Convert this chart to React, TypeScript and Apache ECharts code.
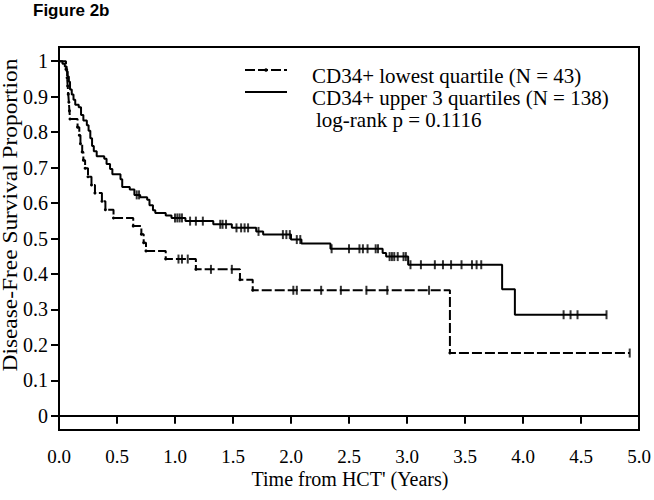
import React, { useEffect, useRef } from "react";
import * as echarts from "echarts";

// Upper 3 quartiles (N = 138): event times and survival after each step
const upperTimes = [0, 0.03, 0.05, 0.066, 0.075, 0.085, 0.095, 0.11, 0.125, 0.14, 0.17, 0.19, 0.21, 0.24, 0.255, 0.27, 0.285, 0.3, 0.325, 0.39, 0.41, 0.44, 0.46, 0.53, 0.545, 0.61, 0.65, 0.7, 0.76, 0.78, 0.81, 0.83, 0.92, 0.97, 1.09, 1.33, 1.49, 1.7, 1.76, 2.0, 2.09, 2.34, 2.79, 2.82, 3.01, 3.82, 3.93, 4.72];
const upperSurv = [1, 0.993, 0.985, 0.971, 0.957, 0.942, 0.92, 0.906, 0.891, 0.877, 0.87, 0.848, 0.833, 0.819, 0.804, 0.783, 0.761, 0.746, 0.732, 0.725, 0.71, 0.696, 0.681, 0.667, 0.645, 0.638, 0.623, 0.616, 0.609, 0.594, 0.58, 0.572, 0.565, 0.558, 0.549, 0.54, 0.53, 0.52, 0.511, 0.497, 0.486, 0.471, 0.459, 0.449, 0.426, 0.357, 0.285, 0.285];
const upperCensorTimes = [0.67, 0.69, 1.0, 1.02, 1.04, 1.06, 1.13, 1.18, 1.24, 1.39, 1.41, 1.44, 1.53, 1.57, 1.6, 1.63, 1.72, 1.93, 1.96, 1.99, 2.05, 2.08, 2.35, 2.5, 2.59, 2.62, 2.66, 2.73, 2.75, 2.85, 2.87, 2.89, 2.92, 2.97, 2.99, 3.03, 3.12, 3.24, 3.31, 3.38, 3.47, 3.56, 3.6, 3.64, 4.35, 4.41, 4.47, 4.72];
const upperCensorSurv = [0.623, 0.623, 0.558, 0.558, 0.558, 0.558, 0.549, 0.549, 0.549, 0.54, 0.54, 0.54, 0.53, 0.53, 0.53, 0.53, 0.52, 0.511, 0.511, 0.511, 0.497, 0.497, 0.471, 0.471, 0.471, 0.471, 0.471, 0.471, 0.471, 0.449, 0.449, 0.449, 0.449, 0.449, 0.449, 0.426, 0.426, 0.426, 0.426, 0.426, 0.426, 0.426, 0.426, 0.426, 0.285, 0.285, 0.285, 0.285];

// Lowest quartile (N = 43)
const lowerTimes = [0, 0.06, 0.07, 0.075, 0.08, 0.085, 0.09, 0.095, 0.16, 0.175, 0.185, 0.2, 0.21, 0.225, 0.25, 0.28, 0.31, 0.37, 0.4, 0.47, 0.64, 0.71, 0.73, 0.75, 0.92, 1.18, 1.56, 1.67, 3.37, 4.92];
const lowerSurv = [1, 0.977, 0.953, 0.93, 0.907, 0.884, 0.86, 0.837, 0.814, 0.791, 0.767, 0.744, 0.721, 0.698, 0.674, 0.651, 0.628, 0.605, 0.581, 0.558, 0.535, 0.512, 0.488, 0.465, 0.442, 0.413, 0.384, 0.354, 0.177, 0.177];
const lowerCensorTimes = [1.03, 1.06, 1.11, 1.31, 1.49, 2.02, 2.05, 2.26, 2.43, 2.65, 2.83, 3.19, 4.92];
const lowerCensorSurv = [0.442, 0.442, 0.442, 0.413, 0.413, 0.354, 0.354, 0.354, 0.354, 0.354, 0.354, 0.354, 0.177];

const yTickValues = [0, 0.1, 0.2, 0.3, 0.4, 0.5, 0.6, 0.7, 0.8, 0.9, 1];

const titleText = "Figure 2b";
const legendLabels = ["CD34+ lowest quartile (N = 43)", "CD34+ upper 3 quartiles (N = 138)"];
const pValueText = "log-rank p = 0.1116";
const xTitle = "Time from HCT' (Years)";
const yTitle = "Disease-Free Survival Proportion";

const SERIF = "'Liberation Serif', 'Times New Roman', serif";

export default function App() {
  const ref = useRef<HTMLDivElement>(null);

  useEffect(() => {
    if (!ref.current) return;
    const chart = echarts.init(ref.current, null, { renderer: "svg" });

    const upperData = upperTimes.map((t, i) => [t, upperSurv[i]]);
    const lowerData = lowerTimes.map((t, i) => {
      const last = i === 0 || i === lowerTimes.length - 1;
      return last ? { value: [t, lowerSurv[i]], symbol: "none" } : { value: [t, lowerSurv[i]] };
    });
    const upperCens = upperCensorTimes.map((t, i) => [t, upperCensorSurv[i]]);
    const lowerCens = lowerCensorTimes.map((t, i) => [t, lowerCensorSurv[i]]);

    chart.setOption({
      animation: false,
      backgroundColor: "#fff",
      grid: {
        left: 59,
        right: 15,
        top: 47,
        bottom: 70,
        show: true,
        borderColor: "#000",
        borderWidth: 2,
        backgroundColor: "transparent",
      },
      xAxis: {
        type: "value",
        min: 0,
        max: 5,
        interval: 0.5,
        axisLine: { show: true, lineStyle: { color: "#000", width: 2 } },
        axisTick: { show: true, inside: false, length: 8, lineStyle: { color: "#000", width: 2 } },
        axisLabel: {
          color: "#000",
          fontFamily: SERIF,
          fontSize: 19,
          margin: 17,
          formatter: (v: number) => v.toFixed(1),
        },
        splitLine: { show: false },
      },
      yAxis: {
        type: "value",
        min: -0.04,
        max: 1.04,
        axisLine: { show: true, lineStyle: { color: "#000", width: 2 } },
        axisTick: {
          show: true,
          inside: false,
          length: 8,
          customValues: yTickValues,
          lineStyle: { color: "#000", width: 2 },
        },
        axisLabel: {
          color: "#000",
          fontFamily: SERIF,
          fontSize: 20,
          margin: 11,
          customValues: yTickValues,
          formatter: (v: number) => (v === 0 ? "0" : v === 1 ? "1" : v.toFixed(1)),
        },
        splitLine: { show: false },
      },
      series: [
        {
          name: legendLabels[0],
          type: "line",
          step: "end",
          data: lowerData,
          symbol: "circle",
          symbolSize: 3,
          showSymbol: true,
          itemStyle: { color: "#000" },
          lineStyle: { color: "#000", width: 2, type: [10, 3] },
          z: 3,
        },
        {
          name: legendLabels[1],
          type: "line",
          step: "end",
          data: upperData,
          showSymbol: false,
          symbol: "none",
          lineStyle: { color: "#000", width: 2 },
          z: 3,
        },
        {
          type: "scatter",
          data: upperCens,
          symbol: "rect",
          symbolSize: [2, 9],
          itemStyle: { color: "#000" },
          z: 4,
        },
        {
          type: "scatter",
          data: lowerCens,
          symbol: "rect",
          symbolSize: [2, 9],
          itemStyle: { color: "#000" },
          z: 4,
        },
      ],
      graphic: [
        {
          type: "text",
          x: 33,
          y: 10,
          style: {
            text: titleText,
            font: "bold 17px 'Liberation Sans', Arial, sans-serif",
            fill: "#000",
            align: "left",
            verticalAlign: "middle",
          },
        },
        {
          type: "text",
          x: 11,
          y: 215,
          rotation: Math.PI / 2,
          scaleX: 1.17,
          style: {
            text: yTitle,
            font: `20px ${SERIF}`,
            fill: "#000",
            align: "center",
            verticalAlign: "middle",
          },
        },
        {
          type: "text",
          x: 350,
          y: 479,
          style: {
            text: xTitle,
            font: `20px ${SERIF}`,
            fill: "#000",
            align: "center",
            verticalAlign: "middle",
          },
        },
        {
          type: "line",
          shape: { x1: 245, y1: 70, x2: 287, y2: 70 },
          style: { stroke: "#000", lineWidth: 2, lineDash: [10, 3] },
        },
        {
          type: "circle",
          shape: { cx: 266, cy: 70, r: 1.8 },
          style: { fill: "#000" },
        },
        {
          type: "line",
          shape: { x1: 245, y1: 92, x2: 287, y2: 92 },
          style: { stroke: "#000", lineWidth: 2 },
        },
        {
          type: "text",
          x: 312,
          y: 76,
          style: { text: legendLabels[0], font: `21px ${SERIF}`, fill: "#000", verticalAlign: "middle" },
        },
        {
          type: "text",
          x: 312,
          y: 98,
          style: { text: legendLabels[1], font: `21px ${SERIF}`, fill: "#000", verticalAlign: "middle" },
        },
        {
          type: "text",
          x: 316,
          y: 120,
          style: { text: pValueText, font: `21px ${SERIF}`, fill: "#000", verticalAlign: "middle" },
        },
      ],
    });

    return () => chart.dispose();
  }, []);

  return (
    <div
      ref={ref}
      style={{ position: "fixed", left: 0, top: 0, width: 654, height: 500, background: "#fff" }}
    />
  );
}
